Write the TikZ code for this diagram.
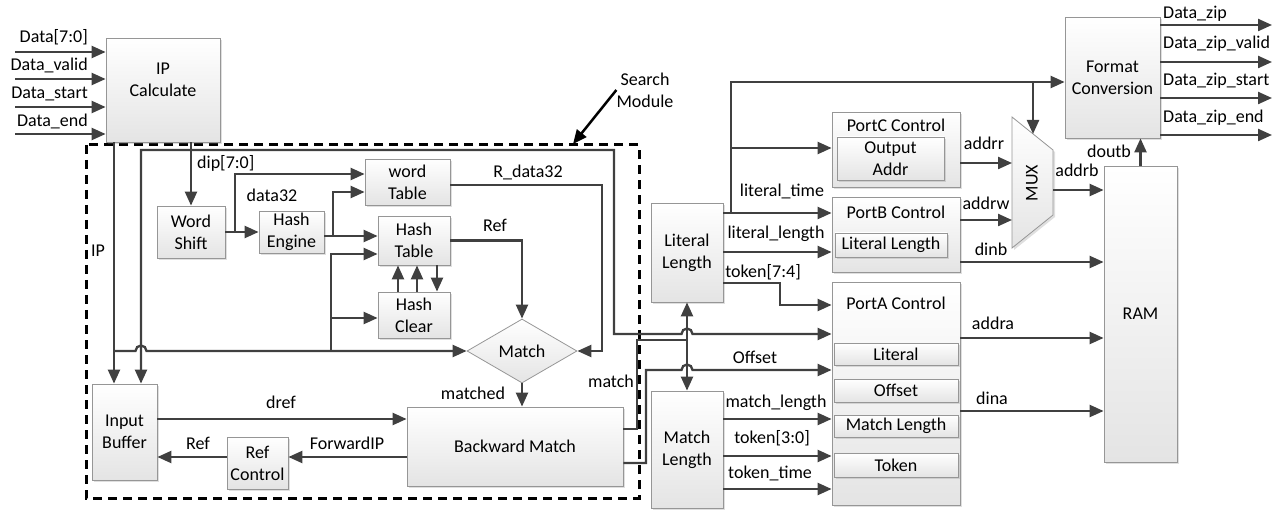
\documentclass[tikz,border=0pt]{standalone}
\usepackage{fontspec}
\setmainfont{Carlito}
\usetikzlibrary{arrows.meta, shapes.geometric, shadows}
\definecolor{wirec}{RGB}{64,64,64}
\definecolor{boxline}{RGB}{150,150,150}
\definecolor{boxbot}{RGB}{228,228,228}

\begin{document}
\begin{tikzpicture}[
    x=1pt, y=-1pt,
    font=\fontsize{18}{22}\selectfont,
    blk/.style={rectangle, draw=boxline, line width=0.8pt, top color=white, bottom color=boxbot, align=center, inner sep=1pt, drop shadow={opacity=0.25, shadow xshift=2pt, shadow yshift=-2pt}},
    muxbox/.style={draw=boxline, line width=0.8pt, top color=white, bottom color=boxbot, drop shadow={opacity=0.25, shadow xshift=2pt, shadow yshift=-2pt}},
    decision/.style={diamond, draw=boxline, line width=0.8pt, top color=white, bottom color=boxbot, inner sep=0pt, minimum width=110pt, minimum height=64pt},
    txt/.style={align=center, inner sep=0pt},
    lbl/.style={anchor=base, inner sep=0pt},
    wire/.style={line width=2.3pt, draw=wirec},
    msg/.style={wire, ->, >={Triangle[length=14pt, width=12pt]}},
    smod/.style={line width=3pt, dash pattern=on 9pt off 6pt}
]
    \useasboundingbox (0,0) rectangle (1281,510);
    \draw[smod] (86,145) rectangle (639,498);

    \node[blk, minimum width=114pt, minimum height=104pt] (ipc) at (163,90) {};
    \node[txt] (ipct) at (163,80) {IP\\Calculate};
    \node[blk, minimum width=68pt, minimum height=52pt] (ws) at (191,232) {Word\\Shift};
    \node[blk, minimum width=65pt, minimum height=42pt] (he) at (291.5,232) {Hash\\Engine};
    \node[blk, minimum width=85pt, minimum height=46pt] (wt) at (407.5,182) {word\\Table};
    \node[blk, minimum width=72pt, minimum height=49pt] (ht) at (414,240.5) {Hash\\Table};
    \node[blk, minimum width=72pt, minimum height=46pt] (hc) at (414,315) {Hash\\Clear};
    \node[decision] (mt) at (522,351) {Match};
    \node[blk, minimum width=65pt, minimum height=96pt] (ib) at (124.5,432) {Input\\Buffer};
    \node[blk, minimum width=61pt, minimum height=52pt] (rc) at (257.5,463) {Ref\\Control};
    \node[blk, minimum width=216pt, minimum height=79pt] (bm) at (515,446.5) {Backward Match};
    \node[blk, minimum width=72pt, minimum height=99pt] (ll) at (687,252.5) {Literal\\Length};
    \node[blk, minimum width=72pt, minimum height=117pt] (ml) at (687,449.5) {Match\\Length};

    \node[blk, minimum width=128pt, minimum height=75pt] (pc) at (896,149.5) {};
    \node[lbl] (pct) at (896,132) {PortC Control};
    \node[blk, minimum width=107pt, minimum height=43pt] (pco) at (890.5,158.5) {Output\\Addr};
    \node[blk, minimum width=128pt, minimum height=75pt] (pb) at (896,234.5) {};
    \node[lbl] (pbt) at (896,219) {PortB Control};
    \node[blk, minimum width=112pt, minimum height=24pt] (pbl) at (891,245) {Literal Length};
    \node[blk, minimum width=128pt, minimum height=223pt] (pa) at (896,393.5) {};
    \node[lbl] (pat) at (896,309) {PortA Control};
    \foreach \yy/\hh/\txt [count=\i] in {354/22/Literal, 390.5/23/Offset, 426/22/Match Length, 465/24/Token}
        \node[blk, minimum width=124pt, minimum height=\hh pt] (pa\i) at (896,\yy) {\txt};

    \draw[muxbox] (1012,117) -- (1053,150) -- (1053,215) -- (1012,248) -- cycle;
    \node[txt, rotate=90] (mux) at (1032,183) {MUX};
    \coordinate (muxr) at (1012,163);
    \coordinate (muxw) at (1012,220);
    \coordinate (muxo) at (1053,190);
    \coordinate (muxt) at (1033,134);

    \node[blk, minimum width=73pt, minimum height=296pt] (ram) at (1140.5,314) {RAM};
    \node[blk, minimum width=95pt, minimum height=121pt] (fc) at (1112.5,77.5) {Format\\Conversion};

    \node[txt] (smlbl) at (645,90) {Search\\Module};
    \coordinate (smtip) at (573,144);
    \draw[line width=2.5pt, ->, >={Triangle[length=14pt, width=12pt]}] (smlbl.west) -- (smtip);

    \foreach \yy/\bb/\txt [count=\i] in {52/43/{Data[7:0]}, 79/71/{Data\_valid}, 107/99/{Data\_start}, 134/127/{Data\_end}} {
        \coordinate (in\i) at (15,\yy);
        \draw[msg] (in\i) -- (in\i -| ipc.west);
        \node[lbl, anchor=base east] (lin\i) at (88,\bb) {\txt};
    }
    \foreach \yy/\bb/\txt [count=\i] in {25/19/{Data\_zip}, 62/49/{Data\_zip\_valid}, 98/86/{Data\_zip\_start}, 135/123/{Data\_zip\_end}} {
        \coordinate (out\i) at (1272,\yy);
        \draw[msg] (fc.east |- out\i) -- (out\i);
        \node[lbl, anchor=base west] (lout\i) at (1163,\bb) {\txt};
    }

    \coordinate (ipj) at (114,351);
    \coordinate (ibr) at (141,150);
    \coordinate (hj) at (331,351);
    \draw[msg] (ipc.south -| ipj) -- (ipj |- ib.north);
    \draw[msg] (ipj) -- (135.5,351) arc[start angle=180, end angle=0, radius=5.5pt] -- (mt.west);
    \draw[msg, <->] (ibr |- ib.north) -- (ibr) -- (614,150) -- (614,334) -- (681.5,334) arc[start angle=180, end angle=0, radius=5.5pt] -- (pa.west |- 0,334);
    \draw[msg] (hj) -- (331,254) -- (ht.west |- 0,254);
    \draw[msg] (331,318) -- (hc.west |- 0,318);
    \draw[msg] (ipc.south -| ws.north) -- (ws.north);
    \draw[msg] (ws) -- (he);
    \draw[msg] (235,232) -- (235,174) -- (wt.west |- 0,174);
    \draw[msg] (he.east |- 0,236) -- (ht.west |- 0,236);
    \draw[msg] (333,236) -- (333,192) -- (wt.west |- 0,192);
    \foreach \xx in {398,417}
        \draw[msg] (hc.north -| \xx,0) -- (ht.south -| \xx,0);
    \draw[msg] (ht.south -| 437,0) -- (hc.north -| 437,0);
    \draw[msg] (ht.east) -- (ht.east -| mt.north) -- (mt.north);
    \draw[msg] (wt.east |- 0,185) -- (602,185) -- (602,351) -- (mt.east);
    \draw[msg] (mt.south) -- (mt.south |- bm.north);
    \draw[msg] (ib.east |- 0,419) -- (bm.west |- 0,419);
    \draw[msg] (bm.west |- 0,457) -- (rc.east |- 0,457);
    \draw[msg] (rc.west |- 0,457) -- (ib.east |- 0,457);
    \draw[wire] (bm.east |- 0,429) -- (637,429) -- (637,340) -- (ll.south |- 0,340);
    \draw[msg, <->] (ll.south) -- (ml.north);
    \draw[msg] (bm.east |- 0,463) -- (646,463) -- (646,370) -- (681.5,370) arc[start angle=180, end angle=0, radius=5.5pt] -- (pa.west |- 0,370);

    \draw[msg] (ll.east |- 0,213) -- (pb.west |- 0,213);
    \draw[msg] (731,213) -- (731,82) -- (fc.west |- 0,82);
    \draw[msg] (731,148) -- (pc.west |- 0,148);
    \draw[msg] (1033,82) -- (muxt);
    \draw[msg] (ll.east |- 0,252) -- (pb.west |- 0,252);
    \draw[msg] (ll.east |- 0,283) -- (780,283) -- (780,305) -- (pa.west |- 0,305);
    \foreach \yy in {419,456,489}
        \draw[msg] (ml.east |- 0,\yy) -- (pa.west |- 0,\yy);
    \draw[msg] (pc.east |- muxr) -- (muxr);
    \draw[msg] (pb.east |- muxw) -- (muxw);
    \draw[msg] (muxo) -- (ram.west |- muxo);
    \draw[msg] (pb.east |- 0,262) -- (ram.west |- 0,262);
    \draw[msg] (pa.east |- 0,338) -- (ram.west |- 0,338);
    \draw[msg] (pa.east |- 0,411) -- (ram.west |- 0,411);
    \draw[msg] (ram.north) -- (ram.north |- fc.south);

    \node[lbl, anchor=base west] (ldip) at (197,169) {dip[7:0]};
    \node[lbl] (lip) at (98,257) {IP};
    \node[lbl] (ldata) at (272,202) {data32};
    \node[lbl] (lrdata) at (528,178) {R\_data32};
    \node[lbl] (lref) at (495,232) {Ref};
    \node[lbl] (lmatched) at (473,399) {matched};
    \node[lbl] (lmatch) at (611,387) {match};
    \node[lbl] (ldref) at (281,408) {dref};
    \node[lbl] (lref2) at (198,449) {Ref};
    \node[lbl] (lfwd) at (347,449) {ForwardIP};
    \node[lbl] (loffset) at (755,363) {Offset};
    \node[lbl] (ltime) at (782,197) {literal\_time};
    \node[lbl] (llen) at (776,239) {literal\_length};
    \node[lbl] (ltok1) at (763,278) {token[7:4]};
    \node[lbl] (lmlen) at (776,407) {match\_length};
    \node[lbl] (ltok2) at (772,443) {token[3:0]};
    \node[lbl] (ltt) at (770,478) {token\_time};
    \node[lbl] (laddrr) at (984,150) {addrr};
    \node[lbl] (laddrw) at (986,210) {addrw};
    \node[lbl] (laddrb) at (1077,177) {addrb};
    \node[lbl] (ldinb) at (991,256) {dinb};
    \node[lbl] (ldoutb) at (1109,158) {doutb};
    \node[lbl] (laddra) at (993,330) {addra};
    \node[lbl] (ldina) at (992,404) {dina};
\end{tikzpicture}
\end{document}
